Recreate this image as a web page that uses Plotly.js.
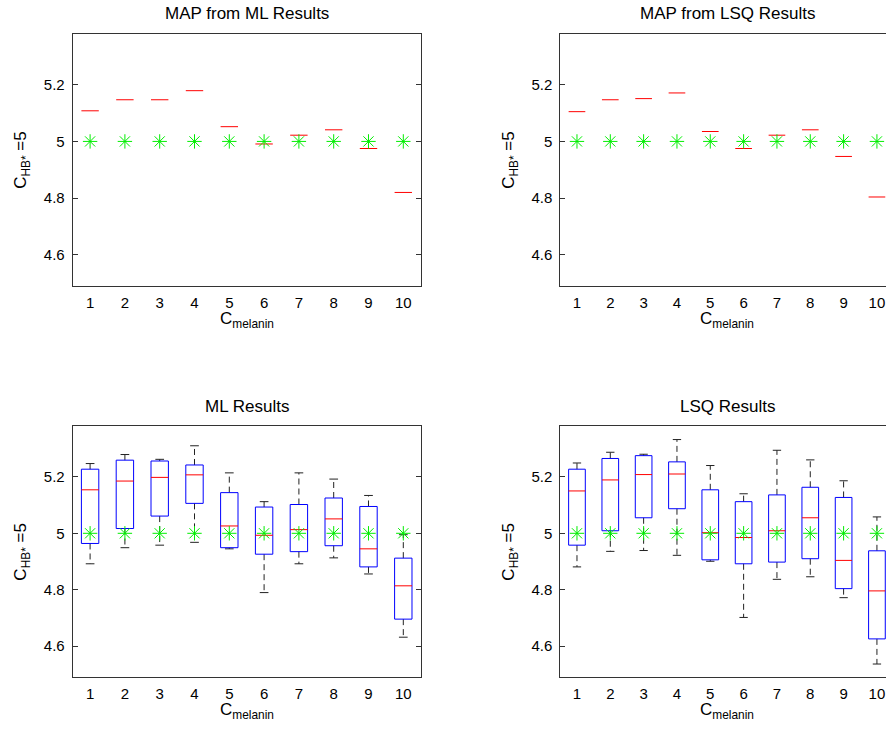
<!DOCTYPE html>
<html>
<head>
<meta charset="utf-8">
<script src="https://cdn.plot.ly/plotly-3.0.1.min.js"></script>
<style>html,body{margin:0;padding:0;background:#fff;}#chart{width:886px;height:729px;}</style>
</head>
<body>
<div id="chart"></div>
<script>
// ---------- data ----------
const groups = [1,2,3,4,5,6,7,8,9,10];
const tickLabels = ['1','2','3','4','5','6','7','8','9','10'];
const trueValue = [5,5,5,5,5,5,5,5,5,5];

// MAP estimates (single value per group)
const mapML  = [5.108,5.147,5.147,5.179,5.052,4.991,5.022,5.041,4.975,4.820];
const mapLSQ = [5.105,5.147,5.151,5.171,5.035,4.975,5.022,5.041,4.947,4.804];

// ML results box statistics
const mlLow  = [4.892,4.949,4.958,4.968,4.945,4.790,4.892,4.913,4.856,4.632];
const mlQ1   = [4.964,5.017,5.061,5.106,4.949,4.926,4.935,4.956,4.881,4.696];
const mlMed  = [5.154,5.185,5.198,5.207,5.026,4.993,5.013,5.051,4.945,4.814];
const mlQ3   = [5.227,5.259,5.256,5.242,5.144,5.093,5.102,5.125,5.095,4.912];
const mlHigh = [5.247,5.279,5.262,5.310,5.214,5.112,5.214,5.192,5.134,4.995];

// LSQ results box statistics
const lsqLow  = [4.881,4.936,4.939,4.922,4.901,4.702,4.837,4.846,4.772,4.537];
const lsqQ1   = [4.958,5.009,5.055,5.087,4.906,4.892,4.898,4.910,4.804,4.626];
const lsqMed  = [5.150,5.189,5.208,5.210,5.002,4.985,5.009,5.055,4.904,4.796];
const lsqQ3   = [5.227,5.265,5.275,5.253,5.154,5.112,5.136,5.163,5.127,4.938];
const lsqHigh = [5.249,5.287,5.280,5.332,5.240,5.140,5.294,5.260,5.186,5.058];

const titles = ['MAP from ML Results','MAP from LSQ Results','ML Results','LSQ Results'];

// ---------- helpers ----------
const HW = 0.25;   // half box width
const CW = 0.125;  // half cap width
const FONT = 'Liberation Sans, Arial, Helvetica, sans-serif';

function medianTrace(vals, xa, ya) {
  const x = [], y = [];
  groups.forEach((g, i) => { x.push(g - HW, g + HW, null); y.push(vals[i], vals[i], null); });
  return {type:'scatter', mode:'lines', x, y, xaxis:xa, yaxis:ya, hoverinfo:'skip',
          line:{color:'#ff0000', width:1}, showlegend:false, cliponaxis:true};
}
function boxTraces(low, q1, med, q3, high, xa, ya) {
  const bx = [], by = [], wx = [], wy = [], cx = [], cy = [];
  groups.forEach((g, i) => {
    bx.push(g-HW, g+HW, g+HW, g-HW, g-HW, null);
    by.push(q1[i], q1[i], q3[i], q3[i], q1[i], null);
    wx.push(g, g, null, g, g, null);
    wy.push(q3[i], high[i], null, q1[i], low[i], null);
    cx.push(g-CW, g+CW, null, g-CW, g+CW, null);
    cy.push(high[i], high[i], null, low[i], low[i], null);
  });
  return [
    {type:'scatter', mode:'lines', x:wx, y:wy, xaxis:xa, yaxis:ya, hoverinfo:'skip', showlegend:false,
     line:{color:'#222222', width:1, dash:'6px,4px'}},
    {type:'scatter', mode:'lines', x:cx, y:cy, xaxis:xa, yaxis:ya, hoverinfo:'skip', showlegend:false,
     line:{color:'#222222', width:1}},
    {type:'scatter', mode:'lines', x:bx, y:by, xaxis:xa, yaxis:ya, hoverinfo:'skip', showlegend:false,
     line:{color:'#0000ff', width:1}},
    medianTrace(med, xa, ya)
  ];
}
function starTrace(xa, ya) {
  return {type:'scatter', mode:'markers', x:groups, y:trueValue, xaxis:xa, yaxis:ya, hoverinfo:'skip',
          showlegend:false,
          marker:{symbol:'asterisk-open', size:12, color:'#00ee00', line:{color:'#00ee00', width:1}}};
}

const data = [
  medianTrace(mapML, 'x', 'y'), starTrace('x', 'y'),
  medianTrace(mapLSQ, 'x2', 'y2'), starTrace('x2', 'y2'),
  ...boxTraces(mlLow, mlQ1, mlMed, mlQ3, mlHigh, 'x3', 'y3'), starTrace('x3', 'y3'),
  ...boxTraces(lsqLow, lsqQ1, lsqMed, lsqQ3, lsqHigh, 'x4', 'y4'), starTrace('x4', 'y4')
];

// ---------- layout ----------
const W = 886, H = 729;
const leftDom  = [72.7/W, 420.7/W];
const rightDom = [560.3/W, 1];
const topDom   = [1 - 286/H, 1 - 33.7/H];
const botDom   = [1 - 677.3/H, 1 - 426/H];
const yRange = [4.49, 5.38];
const leftXR  = [0.5, 10.5];
const rightXR = [0.5, 0.5 + (W - 560.3)/33.33];

function xAx(dom, range, anchor) {
  return {domain:dom, range:range, anchor:anchor, showgrid:false, zeroline:false,
          showline:true, mirror:true, linecolor:'#333333', linewidth:1,
          ticks:'', tickmode:'array', tickvals:groups, ticktext:tickLabels,
          ticklabelstandoff:3, tickfont:{family:FONT, size:15, color:'#000'}, fixedrange:true};
}
function yAx(dom, anchor, mirror) {
  return {domain:dom, range:yRange, anchor:anchor, showgrid:false, zeroline:false,
          showline:true, mirror:mirror, linecolor:'#333333', linewidth:1,
          ticks:'inside', ticklen:5, tickcolor:'#333333', tickwidth:1,
          tickmode:'array', tickvals:[4.6,4.8,5,5.2], ticktext:['4.6','4.8','5','5.2'],
          ticklabelstandoff:4, tickfont:{family:FONT, size:15, color:'#000'}, fixedrange:true};
}

const plotCenters = [
  {cx:(72.7+420.7)/2,  top:33.7, bot:286},
  {cx:(560.3+893.7)/2, top:33.7, bot:286},
  {cx:(72.7+420.7)/2,  top:426,  bot:677.3},
  {cx:(560.3+893.7)/2, top:426,  bot:677.3}
];
const titleY = [14, 14, 406, 406];
const yTitleX = [22, 510, 22, 510];
const annotations = [];
plotCenters.forEach((p, k) => {
  annotations.push({text:titles[k], xref:'paper', yref:'paper', x:p.cx/W, y:1 - titleY[k]/H,
    xanchor:'center', yanchor:'middle', showarrow:false, font:{family:FONT, size:17, color:'#000'}});
  annotations.push({text:'C<sub>HB*</sub> =5', xref:'paper', yref:'paper', x:yTitleX[k]/W,
    y:1 - ((p.top + p.bot)/2)/H, xanchor:'center', yanchor:'middle', textangle:-90, showarrow:false,
    font:{family:FONT, size:17, color:'#000'}});
  annotations.push({text:'C<sub>melanin</sub>', xref:'paper', yref:'paper', x:p.cx/W,
    y:1 - (p.bot + 21)/H, xanchor:'center', yanchor:'top', showarrow:false,
    font:{family:FONT, size:17, color:'#000'}});
});

const layout = {
  width:W, height:H, margin:{l:0, r:0, t:0, b:0},
  paper_bgcolor:'#ffffff', plot_bgcolor:'#ffffff', showlegend:false,
  xaxis: xAx(leftDom, leftXR, 'y'),   yaxis: yAx(topDom, 'x', 'ticks'),
  xaxis2: xAx(rightDom, rightXR, 'y2'), yaxis2: yAx(topDom, 'x2', false),
  xaxis3: xAx(leftDom, leftXR, 'y3'),  yaxis3: yAx(botDom, 'x3', 'ticks'),
  xaxis4: xAx(rightDom, rightXR, 'y4'), yaxis4: yAx(botDom, 'x4', false),
  annotations: annotations
};

Plotly.newPlot('chart', data, layout, {staticPlot:true, displayModeBar:false});
</script>
</body>
</html>
